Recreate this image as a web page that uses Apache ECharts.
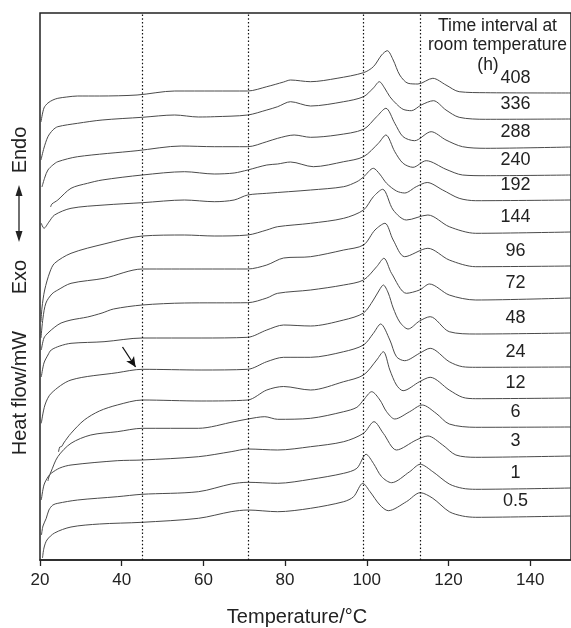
<!DOCTYPE html>
<html>
<head>
<meta charset="utf-8">
<script src="https://cdn.jsdelivr.net/npm/echarts@6/dist/echarts.min.js"></script>
<style>
html, body { margin: 0; padding: 0; background: #fff; }
#chart { width: 571px; height: 628px; }
</style>
</head>
<body>
<div id="chart"></div>
<script>
// DSC curves, one per storage time; [temperature °C, heat flow (arb. units, stacked)]
var curve408 = [[20.24,438],[20.97,452],[21.94,457],[23.15,460],[24.36,461.7],[26.55,463],[29.21,464],[34.55,464],[43.76,465],[52.97,469],[62.67,469],[70.84,469],[75.52,473.3],[79.64,478],[81.33,480],[86.2,478.3],[92.73,481.7],[99.2,487.3],[101.62,493.3],[103.64,505],[105.02,509.3],[106.47,500],[108.07,485],[110.11,476.7],[112.53,476],[116.17,481.7],[119.39,475],[122.62,468.3],[129.09,467.3],[150,467]];
var curve336 = [[20.24,400],[20.97,412],[21.94,423.3],[23.15,430],[24.36,433.3],[29.21,436.7],[35.2,440],[45.04,442.7],[52.97,445],[58.79,443],[62.67,443.3],[70.84,445],[75.52,450],[78.18,453.3],[81.33,458.3],[86.25,454],[94.35,458.3],[99.2,463.3],[101.62,472],[103.08,478.3],[104.36,472],[105.65,463.3],[107.27,456],[108.89,450.7],[110.91,449.3],[113.33,455],[116.32,459.3],[119.39,450],[122.62,442.7],[129.09,440.7],[150,441]];
var curve288 = [[20.48,373],[21.21,383],[21.94,390],[23.15,395],[24.36,398.3],[29.21,403.3],[43.76,409.3],[54.6,414],[62.67,413.3],[70.84,413.3],[75.52,418.3],[78.18,421.7],[82.23,425],[86.25,422.7],[92.73,425],[99.2,430.7],[102.42,443.3],[104.68,451.7],[106.86,436.7],[108.89,423.3],[111.71,419.3],[115.76,428.3],[119.39,420],[123.44,413.3],[129.09,411.7],[150,413]];
var curve240 = [[22.59,353],[22.91,356],[23.64,358],[24.36,360],[27.59,371.7],[31.64,376.7],[35.2,380],[45.04,385],[55.39,388.3],[62.67,386],[67.52,387],[70.84,390],[75.52,395],[78.18,396],[81.33,398],[86.91,393.3],[94.35,398.3],[99.2,403.3],[102.84,416.7],[104.68,425],[106.86,408.3],[108.89,396.7],[111.32,392.7],[114.55,399.3],[119.39,390.7],[123.44,385],[129.09,384.3],[150,385]];
var curve192 = [[20.32,336.7],[20.97,331.7],[22.18,338],[23.56,345],[27.59,351.7],[35.68,355],[45.04,357.3],[55.39,360],[62.67,358.3],[67.52,360],[70.84,365],[75.52,366.7],[86.25,370],[94.35,373.3],[97.58,378.3],[99.2,383],[101.62,391.7],[103.15,386],[104.85,376.7],[107.27,369],[109.28,367],[112.12,373.3],[114.79,377.5],[118.59,370],[122.62,361.7],[126.67,359.3],[150,360]];
var curve144 = [[20.24,238],[20.48,252],[21.14,270],[22.42,288],[23.56,296.7],[27.59,306.7],[35.68,316],[45.04,324],[55.39,325],[62.67,324],[70.84,325],[75.52,330],[78.18,333.3],[86.25,336.7],[94.35,341.7],[99.2,350],[101.62,363.3],[103.88,370.7],[106.47,350],[109.7,340],[114.96,345],[120.19,333.3],[126.67,326.7],[150,328]];
var curve96 = [[20.24,222],[20.73,242],[21.45,257],[22.91,266],[24.36,270],[27.59,276.7],[35.68,281.7],[45.04,291],[59.44,291],[70.84,291],[75.52,295],[79.64,302],[86.25,303.3],[94.35,310],[99.2,315],[102.01,330],[104.44,336.7],[106.47,320],[109.28,303.3],[114.96,311.7],[120.19,300],[126.67,293.3],[150,294]];
var curve72 = [[20.32,210],[20.97,222],[21.94,227],[23.64,233],[25.16,237],[27.59,240],[31.64,243],[35.2,247],[38,251],[45.04,255],[55.39,257],[70.84,257.3],[75.52,262],[78.18,266.7],[86.25,270],[94.35,275],[99.2,280],[102.42,293.3],[104.19,301.7],[106.06,286.7],[109.7,266.7],[112.92,270],[115.35,276],[120.19,265],[126.67,260],[150,262]];
var curve48 = [[20.32,183],[20.97,197],[21.94,205],[22.74,210],[24.85,214],[27.59,216.7],[35.68,218.3],[45.04,222],[59.44,222],[70.84,222.7],[75.52,230],[79.64,235],[86.25,234],[94.35,240],[99.2,247],[101.62,260],[103.08,270],[104.05,275],[105.26,267],[106.47,252],[108.07,238],[110.11,231],[112.92,239],[115.52,243.3],[120.19,228.3],[126.67,226],[150,227]];
var curve24 = [[20.32,136.7],[21.21,155],[22.74,166.7],[27.59,180],[38.91,187.3],[45.04,190.7],[59.44,190],[70.84,190.7],[75.52,198.3],[79.64,202.7],[86.25,202.7],[94.35,208.3],[99.2,215],[101.62,226.7],[103.39,236],[105.65,220],[107.27,203.3],[109.28,199.3],[112.92,206.7],[115.52,211.7],[120.19,198.3],[123.44,193.3],[126.67,192.7],[150,193]];
var curve12 = [[24.53,108],[24.85,113],[25.3,113.5],[25.8,117],[27.59,126.7],[30.84,140],[34.55,149],[38.91,155],[45.04,160],[59.44,159],[70.84,160],[75.52,170],[79.64,173.5],[86.25,170],[94.35,178.3],[99.2,185],[102.42,200],[104.05,208.3],[105.65,190],[107.27,175],[108.89,169.3],[112.92,178.3],[115.52,182.7],[120.19,170],[123.44,162.7],[126.67,161.3],[150,162]];
var curve6 = [[21.94,79],[22.18,83],[22.67,88],[24.36,103.3],[27.59,116.7],[32.44,125],[38.91,128.3],[45.04,131.7],[58.79,131.7],[67.52,138.3],[70.91,141],[75.03,143.3],[78.18,140.7],[86.25,141.7],[94.35,148.3],[97.58,152.7],[99.2,160],[101.21,168.3],[103.22,160],[104.85,148.3],[106.86,141],[110.5,148.3],[113.58,155],[116.97,146.7],[120.19,136],[126.67,132.7],[150,133]];
var curve3 = [[20.32,60],[20.97,75],[21.94,83],[22.74,86.7],[24.85,92],[27.59,95],[38.91,99.3],[44.97,100],[58.79,103.3],[66.79,108.3],[70.91,111],[78.18,110],[86.25,113.3],[94.35,118.3],[99.2,126.7],[101.77,138.3],[104.05,126.7],[107.27,110],[112.12,120],[114.96,124],[118.59,115],[121.82,105],[126.67,102.7],[150,104]];
var curve1 = [[20.36,25],[20.73,34],[21.53,41.7],[22.18,50],[23.15,55],[24.36,56.7],[29.21,60],[38.91,63.3],[44.97,65.7],[58.79,68.3],[66.79,76],[70.91,77.7],[78.18,76.7],[86.25,80.7],[94.35,86.7],[97.58,91.7],[99.83,105.7],[101.62,96.7],[103.64,83.3],[106.06,77.3],[110.5,88.3],[113.09,95.7],[116.17,88.3],[120.19,76],[123.44,71.7],[126.67,70.7],[150,72]];
var curve05 = [[20.61,2],[20.97,12],[21.7,20],[23.56,27],[27.59,33],[34.55,36],[44.97,37.7],[58.79,41.7],[66.79,48.3],[70.91,50],[78.18,48.3],[86.25,51.7],[94.35,58.3],[96.78,63.3],[99.03,76.7],[100.8,68.3],[103.22,55],[105.26,49.3],[109.7,58.3],[113.09,67.3],[116.17,61.7],[120.19,48.3],[123.44,44],[126.67,42.7],[150,44]];

var hours = ['408', '336', '288', '240', '192', '144', '96', '72', '48', '24', '12', '6', '3', '1', '0.5'];
var curves = [curve408, curve336, curve288, curve240, curve192, curve144, curve96, curve72, curve48, curve24, curve12, curve6, curve3, curve1, curve05];

// dotted reference temperatures
var refTemps = [45, 70.9, 99.2, 113.1];
// arrow pointing at the 24 h curve
var arrowFrom = [40.2, 213];
var arrowTo = [43.4, 193];
var labelTemp = 136.4;

var FONT = '"Liberation Sans", Arial, sans-serif';
var INK = '#222';

var series = curves.map(function (c, i) {
    var s = {
        type: 'line',
        name: hours[i],
        data: c,
        showSymbol: false,
        smooth: 0.3,
        silent: true,
        lineStyle: { color: '#4a4a4a', width: 1 },
        markPoint: {
            symbol: 'circle',
            symbolSize: 1,
            silent: true,
            itemStyle: { color: 'rgba(0,0,0,0)' },
            label: {
                show: true, position: 'inside', offset: [0, -15],
                formatter: hours[i], fontSize: 18, color: INK, fontFamily: FONT
            },
            data: [{ coord: [labelTemp, c[c.length - 1][1]] }]
        }
    };
    if (hours[i] === '24') {
        s.markLine = {
            silent: true,
            symbol: ['none', 'arrow'],
            symbolSize: [7, 10],
            label: { show: false },
            lineStyle: { color: '#111', width: 1.3, type: 'solid' },
            data: [[{ coord: arrowFrom }, { coord: arrowTo }]]
        };
    }
    if (hours[i] === '0.5') {
        s.markLine = {
            silent: true,
            symbol: ['none', 'none'],
            label: { show: false },
            lineStyle: { color: '#111', width: 1.2, type: [1.5, 2.2] },
            data: refTemps.map(function (t) { return { xAxis: t }; })
        };
    }
    return s;
});

function vText(text, x, y) {
    return {
        type: 'text', x: x, y: y, rotation: Math.PI / 2,
        style: { text: text, font: '20px ' + FONT, fill: INK, align: 'center', verticalAlign: 'middle' }
    };
}
function hText(text, x, y, size) {
    return {
        type: 'text', x: x, y: y,
        style: { text: text, font: size + 'px ' + FONT, fill: INK, align: 'center', verticalAlign: 'middle' }
    };
}

var chart = echarts.init(document.getElementById('chart'), null, { renderer: 'canvas' });
chart.setOption({
    animation: false,
    backgroundColor: '#fff',
    grid: { left: 40, top: 13, right: -5, bottom: 68, show: true, borderColor: INK, borderWidth: 1.5 },
    xAxis: {
        type: 'value', min: 20, max: 150, interval: 20,
        axisLine: { show: true, lineStyle: { color: INK, width: 1.5 } },
        axisTick: { show: true, inside: false, length: 6, lineStyle: { color: INK, width: 1.3 } },
        axisLabel: { fontSize: 17, color: INK, margin: 12, fontFamily: FONT, showMaxLabel: false },
        splitLine: { show: false }
    },
    yAxis: {
        type: 'value', min: 0, max: 547,
        axisLine: { show: false }, axisTick: { show: false },
        axisLabel: { show: false }, splitLine: { show: false }
    },
    graphic: [
        hText('Temperature/°C', 297, 617, 20),
        vText('Heat flow/mW', 20.5, 393),
        vText('Exo', 20, 277),
        vText('Endo', 20, 150),
        { type: 'line', shape: { x1: 19, y1: 192, x2: 19, y2: 235 }, style: { stroke: INK, lineWidth: 1.3 } },
        { type: 'polygon', shape: { points: [[19, 185], [15.5, 196], [22.5, 196]] }, style: { fill: INK } },
        { type: 'polygon', shape: { points: [[19, 242], [15.5, 231], [22.5, 231]] }, style: { fill: INK } },
        hText('Time interval at', 497.5, 26, 17.5),
        hText('room temperature', 497.5, 45, 17.5),
        hText('(h)', 488, 65, 17.5)
    ],
    series: series
});
</script>
</body>
</html>
